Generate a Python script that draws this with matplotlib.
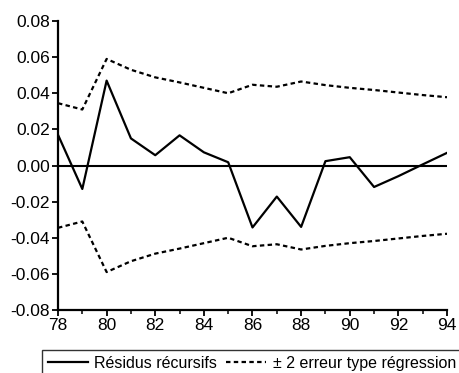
import numpy as np
import matplotlib
matplotlib.use("Agg")
import matplotlib.pyplot as plt

plt.rcParams["font.family"] = ["Liberation Sans", "DejaVu Sans"]

# Résidus récursifs et bande à ± 2 erreurs type
annees = list(range(78, 95))
residus = [0.017, -0.013, 0.047, 0.015, 0.0057, 0.0167, 0.0073, 0.0018,
           -0.0343, -0.0172, -0.034, 0.0024, 0.0046, -0.0119, -0.0059,
           0.0006, 0.007]
bande = [0.0345, 0.031, 0.059, 0.053, 0.0488, 0.046, 0.043, 0.040,
         0.0447, 0.0436, 0.0465, 0.0445, 0.043, 0.0418, 0.0404, 0.039,
         0.0378]
xticks = list(range(78, 95, 2))
yticks = [-0.08, -0.06, -0.04, -0.02, 0.00, 0.02, 0.04, 0.06, 0.08]

bande = np.array(bande)

fig = plt.figure(figsize=(4.6, 3.73), dpi=100)
ax = fig.add_axes([58 / 460, 1 - 310 / 373, (447 - 58) / 460, (310 - 21) / 373])

ax.axhline(0, color="black", lw=1.5)
l1, = ax.plot(annees, residus, color="black", lw=1.6, label="Résidus récursifs")
l2, = ax.plot(annees, bande, color="black", lw=1.6, ls=(0, (2.0, 1.5)),
              label="± 2 erreur type régression")
ax.plot(annees, -bande, color="black", lw=1.6, ls=(0, (2.0, 1.5)))

ax.set_xlim(78, 94)
ax.set_ylim(-0.08, 0.08)
ax.set_xticks(xticks)
ax.set_xticks(annees, minor=True)
ax.set_yticks(yticks)
ax.set_yticklabels([f"{v:.2f}" for v in yticks])

for s in ["top", "right"]:
    ax.spines[s].set_visible(False)
for s in ["left", "bottom"]:
    ax.spines[s].set_linewidth(1.6)
ax.tick_params(axis="both", which="major", direction="out", length=4,
               width=1.3, labelsize=12.5, pad=2)
ax.tick_params(axis="x", which="minor", direction="out", length=3, width=1.1)

fig.legend(handles=[l1, l2], loc="upper left", ncol=2,
           bbox_to_anchor=(42 / 460, 1 - 350 / 373), borderaxespad=0,
           frameon=True, fancybox=False, edgecolor="black", fontsize=11.5,
           handlelength=2.5, handletextpad=0.4, columnspacing=0.6,
           borderpad=0.35)

fig.savefig("out.png", dpi=100)
